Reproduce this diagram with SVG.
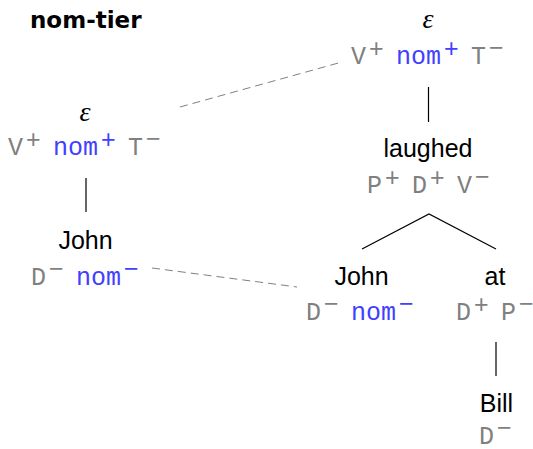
<svg xmlns="http://www.w3.org/2000/svg" width="533" height="449" viewBox="0 0 533 449">
<style>
.w{font-family:"Liberation Sans",Arial,sans-serif;font-size:25px;fill:#000;text-anchor:middle}
.e{font-family:"Liberation Serif","Times New Roman",serif;font-style:italic;font-size:28px;fill:#000;text-anchor:middle}
.f{font-family:"Liberation Mono","Courier New",monospace;font-size:25px;fill:#808080}
.b{fill:#4040ff}
.s{font-family:"Liberation Sans",Arial,sans-serif;font-size:25px}
.t{font-family:"DejaVu Sans",sans-serif;font-weight:bold;font-size:23px;fill:#000}
.tree{stroke:#000;stroke-width:1.2;fill:none}
.tier{stroke:#808080;stroke-width:1;stroke-dasharray:8 5;fill:none}
</style>
<text class="t" x="30" y="28">nom-tier</text>
<g id="connectors">
<line class="tier" x1="180" y1="107" x2="342" y2="62"/>
<line class="tier" x1="152" y1="268" x2="297" y2="287"/>
<line class="tree" x1="86" y1="178" x2="86" y2="212"/>
<line class="tree" x1="428.5" y1="87" x2="428.5" y2="122"/>
<polyline class="tree" points="362,249 429,214 496,249"/>
<line class="tree" x1="496" y1="342" x2="496" y2="376"/>
</g>
<g id="node-eps-top">
<text class="e" x="428" y="28">ε</text>
<text class="f" y="64"><tspan x="351">V</tspan><tspan class="s" x="369" y="56.5">+</tspan><tspan class="b" x="396" y="64">nom</tspan><tspan class="s b" x="444" y="56.5">+</tspan><tspan x="471" y="64">T</tspan><tspan class="s" x="489" y="56">−</tspan></text>
</g>
<g id="node-eps-left">
<text class="e" x="85" y="121">ε</text>
<text class="f" y="155"><tspan x="8">V</tspan><tspan class="s" x="26" y="147.5">+</tspan><tspan class="b" x="53" y="155">nom</tspan><tspan class="s b" x="101" y="147.5">+</tspan><tspan x="128" y="155">T</tspan><tspan class="s" x="146" y="147">−</tspan></text>
</g>
<g id="node-john-left">
<text class="w" x="85.5" y="249">John</text>
<text class="f" y="285"><tspan x="31">D</tspan><tspan class="s" x="49" y="277">−</tspan><tspan class="b" x="76" y="285">nom</tspan><tspan class="s b" x="124" y="277">−</tspan></text>
</g>
<g id="node-laughed">
<text class="w" x="428" y="157">laughed</text>
<text class="f" y="193"><tspan x="367">P</tspan><tspan class="s" x="385" y="185.5">+</tspan><tspan x="412" y="193">D</tspan><tspan class="s" x="430" y="185.5">+</tspan><tspan x="457" y="193">V</tspan><tspan class="s" x="475" y="185">−</tspan></text>
</g>
<g id="node-john-right">
<text class="w" x="361.5" y="285">John</text>
<text class="f" y="320"><tspan x="306">D</tspan><tspan class="s" x="324" y="312">−</tspan><tspan class="b" x="351" y="320">nom</tspan><tspan class="s b" x="399" y="312">−</tspan></text>
</g>
<g id="node-at">
<text class="w" x="495" y="285">at</text>
<text class="f" y="320"><tspan x="456">D</tspan><tspan class="s" x="474" y="312.5">+</tspan><tspan x="501" y="320">P</tspan><tspan class="s" x="519" y="312">−</tspan></text>
</g>
<g id="node-bill">
<text class="w" x="496.5" y="412">Bill</text>
<text class="f" y="444"><tspan x="479">D</tspan><tspan class="s" x="497" y="436">−</tspan></text>
</g>
</svg>
